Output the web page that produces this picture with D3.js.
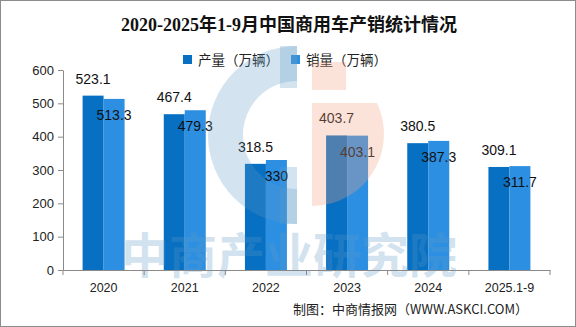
<!DOCTYPE html>
<html>
<head>
<meta charset="utf-8">
<script src="https://cdn.jsdelivr.net/npm/d3@7"></script>
<style>
  body { margin: 0; background: #fff; }
  svg { display: block; }
</style>
</head>
<body>
<div id="chart"></div>
<script>
// data
const categories = ["2020", "2021", "2022", "2023", "2024", "2025.1-9"];
const production = [523.1, 467.4, 318.5, 403.7, 380.5, 309.1];
const sales = [513.3, 479.3, 330, 403.1, 387.3, 311.7];
const seriesNames = ["产量（万辆）", "销量（万辆）"];
const yTicks = [0, 100, 200, 300, 400, 500, 600];

const W = 576, H = 327;
const colors = ["#0870c2", "#2d8fe2"];
const cjk = "'Noto Sans CJK SC', sans-serif";

const svg = d3.select("#chart").append("svg")
  .attr("width", W).attr("height", H);

// frame
svg.append("rect")
  .attr("x", 0.5).attr("y", 0.5)
  .attr("width", W - 1).attr("height", H - 1)
  .attr("fill", "#fff").attr("stroke", "#8c8c8c");

// title
svg.append("text")
  .attr("x", 289).attr("y", 31)
  .attr("text-anchor", "middle")
  .style("font-family", "'Liberation Serif', 'Noto Sans CJK SC', serif")
  .style("font-weight", "bold")
  .style("font-size", "18px")
  .attr("fill", "#111")
  .text("2020-2025年1-9月中国商用车产销统计情况");

// legend
const legend = svg.append("g");
[[183, 0], [291, 1]].forEach(([lx, i]) => {
  legend.append("rect")
    .attr("x", lx).attr("y", 55).attr("width", 9).attr("height", 9)
    .attr("fill", colors[i]);
  legend.append("text")
    .attr("x", lx + 15).attr("y", 65)
    .style("font-family", cjk).style("font-size", "13.5px")
    .attr("fill", "#222")
    .text(seriesNames[i]);
});

// scales
const x = d3.scaleBand().domain(categories).range([63, 550]);
const xSub = d3.scaleBand().domain([0, 1]).range([0, x.bandwidth()]).paddingOuter(0.933);
const y = d3.scaleLinear().domain([0, 600]).range([270, 70]);

// bars
const rows = categories.map((c, i) => ({ c, vals: [production[i], sales[i]] }));
const groups = svg.append("g").selectAll("g").data(rows).join("g")
  .attr("transform", d => `translate(${x(d.c)},0)`);

groups.selectAll("rect").data(d => d.vals.map((v, k) => ({ v, k }))).join("rect")
  .attr("x", d => xSub(d.k))
  .attr("y", d => y(d.v))
  .attr("width", xSub.bandwidth())
  .attr("height", d => y(0) - y(d.v))
  .attr("fill", d => colors[d.k]);

// watermark (drawn over the bars, semi-transparent)
const wm = svg.append("g").attr("pointer-events", "none");
const blueWm = "#5c9bc6", peachWm = "#f2a383";
// blue C shaped ring
const arcC = d3.arc().innerRadius(54).outerRadius(89)
  .startAngle(Math.PI).endAngle(2 * Math.PI);
wm.append("path")
  .attr("transform", "translate(297,135)")
  .attr("d", arcC())
  .attr("fill", blueWm).attr("opacity", 0.27);
wm.append("rect").attr("x", 280).attr("y", 46).attr("width", 17).attr("height", 42)
  .attr("fill", blueWm).attr("opacity", 0.27);
wm.append("rect").attr("x", 280).attr("y", 167).attr("width", 17).attr("height", 57)
  .attr("fill", blueWm).attr("opacity", 0.27);
// peach half disc with a gap near its top
const arcP = d3.arc().innerRadius(0).outerRadius(72)
  .startAngle(0).endAngle(Math.PI);
svg.append("defs").append("clipPath").attr("id", "pclip")
  .append("rect").attr("x", 300).attr("y", 103).attr("width", 100).attr("height", 120);
wm.append("g")
  .attr("clip-path", "url(#pclip)")
  .append("path")
  .attr("transform", "translate(312,134)")
  .attr("d", arcP())
  .attr("fill", peachWm).attr("opacity", 0.3);
wm.append("rect").attr("x", 312).attr("y", 62).attr("width", 34).attr("height", 28)
  .attr("fill", peachWm).attr("opacity", 0.3);
wm.append("text")
  .attr("x", 289).attr("y", 273)
  .attr("text-anchor", "middle")
  .style("font-family", cjk).style("font-weight", "bold").style("font-size", "48px")
  .attr("fill", blueWm).attr("opacity", 0.27)
  .text("中商产业研究院");

// value labels
const labelFont = "'Liberation Sans', Arial, sans-serif";
groups.selectAll("text.val").data(d => d.vals.map((v, k) => ({ v, k }))).join("text")
  .attr("class", "val")
  .attr("x", d => xSub(d.k) + xSub.bandwidth() / 2)
  .attr("y", d => d.k === 0 ? y(d.v) - 12 : y(d.v) + 21)
  .attr("text-anchor", "middle")
  .style("font-family", labelFont).style("font-size", "14px")
  .attr("fill", "#111")
  .text(d => d.v);

// axes
const yAxis = svg.append("g")
  .attr("transform", "translate(63,0)")
  .call(d3.axisLeft(y).tickValues(yTicks).tickSize(5).tickSizeOuter(0).tickPadding(4));
const xAxis = svg.append("g")
  .attr("transform", "translate(0,270)")
  .call(d3.axisBottom(x).tickSize(0).tickPadding(13));
// category boundary ticks
xAxis.selectAll("line.bound")
  .data(d3.range(categories.length + 1))
  .join("line")
  .attr("class", "bound")
  .attr("x1", i => x.range()[0] + i * x.step())
  .attr("x2", i => x.range()[0] + i * x.step())
  .attr("y1", 0).attr("y2", 5);

[yAxis, xAxis].forEach(a => {
  a.selectAll("path.domain, line").attr("stroke", "#8a8a8a");
  a.selectAll("text")
    .style("font-family", labelFont)
    .attr("fill", "#222");
});
yAxis.selectAll("text").style("font-size", "13px");
xAxis.selectAll("text").style("font-size", "12.5px");

// source note
svg.append("text")
  .attr("x", 528).attr("y", 314)
  .attr("text-anchor", "end")
  .style("font-family", cjk).style("font-size", "13px")
  .attr("fill", "#222")
  .text("制图：中商情报网（WWW.ASKCI.COM）");
</script>
</body>
</html>
